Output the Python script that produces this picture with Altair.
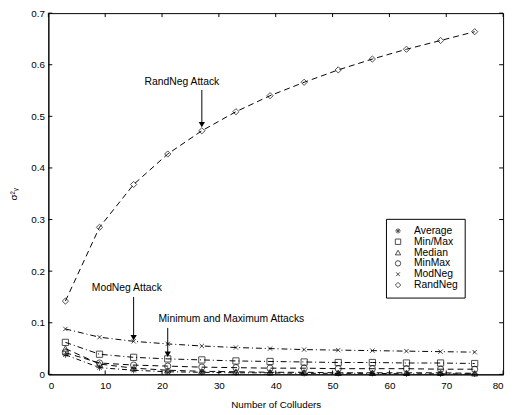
import altair as alt
import pandas as pd

colluders = [3, 9, 15, 21, 27, 33, 39, 45, 51, 57, 63, 69, 75]
series_names = ["Average", "Min/Max", "Median", "MinMax", "ModNeg", "RandNeg"]
average = [0.038, 0.013, 0.008, 0.005, 0.004, 0.003, 0.003, 0.002, 0.002, 0.002, 0.001, 0.001, 0.001]
minmax_slash = [0.062, 0.039, 0.033, 0.030, 0.028, 0.026, 0.025, 0.024, 0.023, 0.023, 0.022, 0.022, 0.021]
median = [0.050, 0.020, 0.012, 0.008, 0.006, 0.005, 0.004, 0.004, 0.003, 0.003, 0.003, 0.003, 0.002]
minmax = [0.042, 0.022, 0.018, 0.016, 0.014, 0.013, 0.012, 0.012, 0.011, 0.011, 0.011, 0.010, 0.010]
modneg = [0.088, 0.072, 0.064, 0.059, 0.055, 0.052, 0.050, 0.048, 0.047, 0.046, 0.045, 0.044, 0.043]
randneg = [0.142, 0.285, 0.368, 0.427, 0.472, 0.509, 0.540, 0.566, 0.590, 0.611, 0.630, 0.647, 0.664]

x_ticks = [0, 10, 20, 30, 40, 50, 60, 70, 80]
y_ticks = [0, 0.1, 0.2, 0.3, 0.4, 0.5, 0.6, 0.7]

ann_text = ["RandNeg Attack", "ModNeg Attack", "Minimum and Maximum Attacks"]
ann_text_x = [23.5, 13.8, 32.2]
ann_text_y = [0.566, 0.168, 0.108]
arrow_x = [27, 15, 21]
arrow_top = [0.551, 0.150, 0.090]
arrow_end = [0.484, 0.071, 0.039]

all_series = [average, minmax_slash, median, minmax, modneg, randneg]
rows = []
for name, vals in zip(series_names, all_series):
    for xv, yv in zip(colluders, vals):
        rows.append({"n": xv, "v": yv, "s": name})
df = pd.DataFrame(rows)

ann_df = pd.DataFrame({"t": ann_text, "x": ann_text_x, "y": ann_text_y})
arr_df = pd.DataFrame({"x": arrow_x, "y": arrow_top, "y2": arrow_end})
xt_df = pd.DataFrame({"x": x_ticks})
yt_df = pd.DataFrame({"y": y_ticks})

W, H = 462, 367
FONT = "Liberation Sans"

xscale = alt.Scale(domain=[0, 80], nice=False)
yscale = alt.Scale(domain=[0, 0.7], nice=False)

dashes = [[5, 3, 1, 3], [6, 3, 1, 3], [6, 4], [6, 4], [6, 3, 1, 3], [6, 4]]
asterisk = "M-1,0L1,0M0,-1L0,1M-0.7,-0.7L0.7,0.7M-0.7,0.7L0.7,-0.7"
xmark = "M-0.7,-0.7L0.7,0.7M-0.7,0.7L0.7,-0.7"
shapes = [asterisk, "square", "triangle-up", "circle", xmark, "diamond"]

xenc = alt.X("n:Q", scale=xscale, title="Number of Colluders",
             axis=alt.Axis(values=x_ticks, ticks=False, grid=False, labelPadding=6,
                           titlePadding=10))
yenc = alt.Y("v:Q", scale=yscale, title="σ²ᵧ",
             axis=alt.Axis(values=y_ticks, ticks=False, grid=False, labelPadding=4,
                           labelExpr="datum.value == 0 ? '0' : format(datum.value, '.1f')",
                           titlePadding=12))

line_layers = []
for name, dash in zip(series_names, dashes):
    line_layers.append(
        alt.Chart(df[df["s"] == name]).mark_line(color="black", strokeWidth=1, strokeDash=dash)
        .encode(x=xenc, y=yenc)
    )

points = alt.Chart(df).mark_point(color="black", filled=False, size=40, strokeWidth=1).encode(
    x=alt.X("n:Q", scale=xscale), y=alt.Y("v:Q", scale=yscale),
    shape=alt.Shape("s:N", scale=alt.Scale(domain=series_names, range=shapes),
                    legend=alt.Legend(title=None, orient="none", legendX=343, legendY=209,
                                      strokeColor="black", fillColor="white", padding=7,
                                      rowPadding=0, labelFontSize=10.5, labelFont=FONT,
                                      labelColor="black",
                                      symbolStrokeColor="black",
                                      symbolSize=30, symbolStrokeWidth=1, labelOffset=11,
                                      cornerRadius=0)),
)

texts = alt.Chart(ann_df).mark_text(font=FONT, fontSize=10.5, color="black").encode(
    x=alt.X("x:Q", scale=xscale), y=alt.Y("y:Q", scale=yscale), text="t:N")

arrows = alt.Chart(arr_df).mark_rule(color="black", strokeWidth=1).encode(
    x=alt.X("x:Q", scale=xscale), y=alt.Y("y:Q", scale=yscale), y2="y2:Q")

heads = alt.Chart(arr_df).mark_point(shape="triangle-down", filled=True, color="black", size=40, opacity=1).encode(
    x=alt.X("x:Q", scale=xscale), y=alt.Y("y2:Q", scale=yscale))

bt = alt.Chart(xt_df).mark_rule(color="black").encode(
    x=alt.X("x:Q", scale=xscale), y=alt.value(H), y2=alt.value(H - 4))
tt = alt.Chart(xt_df).mark_rule(color="black").encode(
    x=alt.X("x:Q", scale=xscale), y=alt.value(0), y2=alt.value(4))
lt = alt.Chart(yt_df).mark_rule(color="black").encode(
    y=alt.Y("y:Q", scale=yscale), x=alt.value(0), x2=alt.value(4))
rt = alt.Chart(yt_df).mark_rule(color="black").encode(
    y=alt.Y("y:Q", scale=yscale), x=alt.value(W), x2=alt.value(W - 4))

chart = alt.layer(*line_layers, points, texts, arrows, heads, bt, tt, lt, rt).properties(
    width=W, height=H,
    autosize=alt.AutoSizeParams(type="none"),
    padding={"left": 41, "top": 2, "right": 6, "bottom": 33},
).configure(
    background="white",
    view=alt.ViewConfig(stroke="black", strokeWidth=1),
    axis=alt.AxisConfig(domainColor="black", labelColor="black", titleColor="black",
                        labelFont=FONT, titleFont=FONT, labelFontSize=10, titleFontSize=10,
                        titleFontWeight="normal"),
)

chart.save("out.html", embed_options={"renderer": "svg", "actions": False})
